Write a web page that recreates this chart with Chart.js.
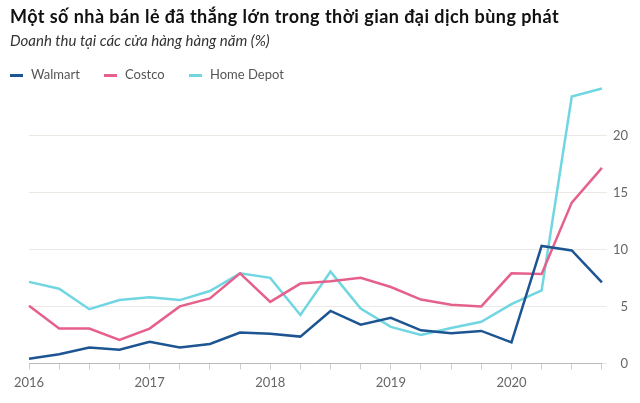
<!DOCTYPE html>
<html>
<head>
<meta charset="utf-8">
<script src="https://cdn.jsdelivr.net/npm/chart.js@4"></script>
<style>
body { margin: 0; background: #fff; font-family: Lato, sans-serif; }
#wrap { position: relative; width: 640px; height: 403px; }
#title { position: absolute; left: 10px; top: 5px; font-size: 18px; letter-spacing: 0.45px; font-weight: bold; color: #111; white-space: nowrap; }
#sub { position: absolute; left: 10px; top: 31px; font-size: 15px; font-style: italic; color: #333; white-space: nowrap; }
.lg { position: absolute; top: 66px; font-size: 13px; color: #555; white-space: nowrap; }
.lg span { display: inline-block; width: 13px; height: 3px; vertical-align: middle; margin-right: 8px; }
canvas { position: absolute; left: 0; top: 0; }
</style>
</head>
<body>
<div id="wrap">
  <canvas id="myChart" width="640" height="403"></canvas>
  <div id="title">Một số nhà bán lẻ đã thắng lớn trong thời gian đại dịch bùng phát</div>
  <div id="sub">Doanh thu tại các cửa hàng hàng năm (%)</div>
  <div class="lg" style="left:10px"><span style="background:#1d5592"></span>Walmart</div>
  <div class="lg" style="left:104px"><span style="background:#e5618b"></span>Costco</div>
  <div class="lg" style="left:189px"><span style="background:#70d6e2"></span>Home Depot</div>
</div>
<script>
// quarterly, 2016 Q1 .. 2020 Q4
const quarters = [
    '2016 Q1', '2016 Q2', '2016 Q3', '2016 Q4',
    '2017 Q1', '2017 Q2', '2017 Q3', '2017 Q4',
    '2018 Q1', '2018 Q2', '2018 Q3', '2018 Q4',
    '2019 Q1', '2019 Q2', '2019 Q3', '2019 Q4',
    '2020 Q1', '2020 Q2', '2020 Q3', '2020 Q4'
];
const walmart = [0.4, 0.8, 1.4, 1.2, 1.9, 1.4, 1.7, 2.7, 2.6, 2.35, 4.6, 3.4, 4.0, 2.9, 2.65, 2.85, 1.85, 10.3, 9.9, 7.1];
const costco = [5.05, 3.05, 3.05, 2.05, 3.05, 5.0, 5.7, 7.9, 5.4, 7.0, 7.2, 7.5, 6.7, 5.6, 5.15, 5.0, 7.9, 7.85, 14.1, 17.15];
const homeDepot = [7.15, 6.55, 4.75, 5.55, 5.8, 5.55, 6.35, 7.9, 7.5, 4.25, 8.05, 4.8, 3.2, 2.5, 3.1, 3.65, 5.2, 6.4, 23.4, 24.1];
const yTicks = [0, 5, 10, 15, 20];

let chart = document.getElementById('myChart').getContext('2d');

let myChart = new Chart(chart, {
    type: 'line',
    data: {
        labels: quarters,
        datasets: [{
            label: 'Walmart',
            data: walmart,
            borderColor: '#1d5592'
        }, {
            label: 'Costco',
            data: costco,
            borderColor: '#e5618b'
        }, {
            label: 'Home Depot',
            data: homeDepot,
            borderColor: '#70d6e2'
        }]
    },
    options: {
        responsive: false,
        animation: false,
        layout: { padding: { left: 29, right: 12, top: 84, bottom: 6 } },
        plugins: { legend: { display: false }, tooltip: { enabled: false } },
        elements: {
            point: { radius: 0 },
            line: { borderWidth: 2.5, tension: 0 }
        },
        scales: {
            x: {
                grid: { drawOnChartArea: false, drawTicks: true, tickLength: 6, color: '#ccc' },
                border: { display: true, color: '#bbb' },
                ticks: {
                    autoSkip: false,
                    maxRotation: 0,
                    padding: 6,
                    color: '#666',
                    font: { family: 'Lato', size: 13 },
                    callback: (v, i) => i % 4 === 0 ? quarters[i].slice(0, 4) : ''
                }
            },
            y: {
                position: 'right',
                min: 0,
                max: 24.5,
                afterBuildTicks: axis => { axis.ticks = yTicks.map(v => ({ value: v })); },
                grid: { color: '#ece9e4', tickLength: 5 },
                border: { display: false },
                ticks: { padding: 3, crossAlign: 'far', color: '#666', font: { family: 'Lato', size: 13 } }
            }
        }
    }
});
</script>
</body>
</html>
